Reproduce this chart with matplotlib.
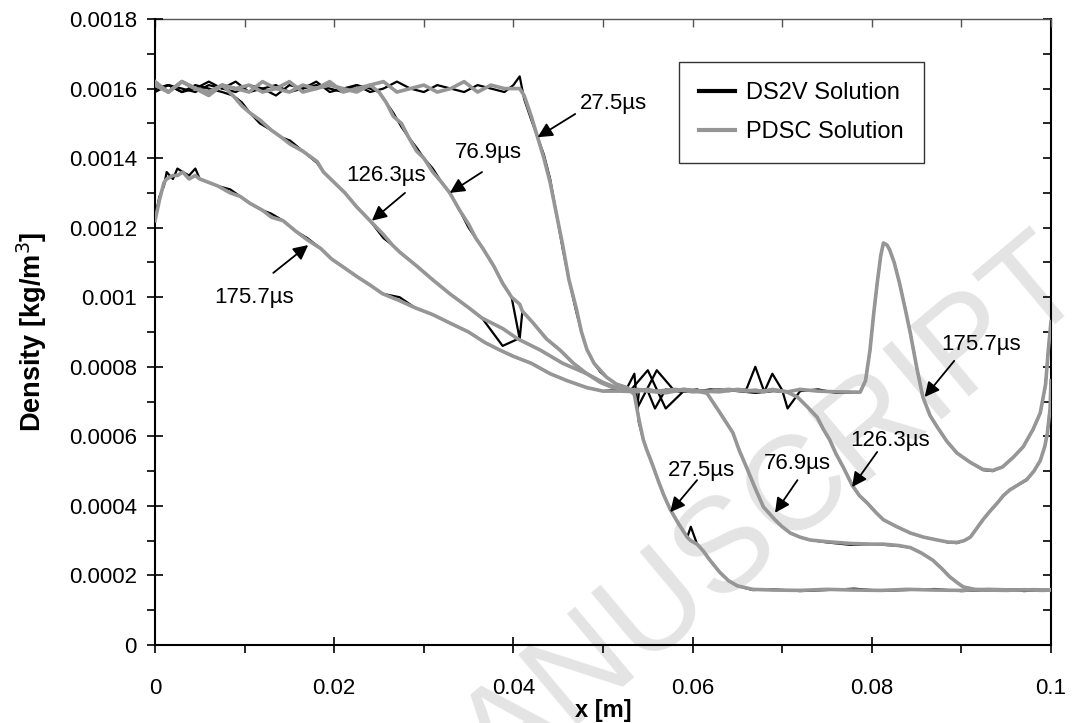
import numpy as np
import matplotlib
matplotlib.use("Agg")
import matplotlib.pyplot as plt
from matplotlib.ticker import MultipleLocator, FuncFormatter

plt.rcParams['font.family'] = ['Liberation Sans', 'DejaVu Sans']

SCALE = 1e-3  # values below in 1e-3 kg/m3

# ---- 27.5 us ----
x_275 = [0.0, .0015, .003, .0045, .006, .0075, .009, .0105, .012, .0135, .015, .0165, .018, .0195,
         .021, .0225, .024, .0255, .027, .0285, .030, .0315, .033, .0345, .036, .0375, .039, .0400,
         .0407, .0412, .0420, .0427, .0434, .0441, .0448, .0455, .0462, .0470, .0476, .0482, .0490,
         .0497, .0504, .0515, .0527, .0535, .0540, .0545, .0549, .0555, .0562, .0568, .0575, .0584,
         .0594, .0598, .0605, .0612, .0619, .0630, .0640, .0650, .0667, .069, .072, .075, .078, .081,
         .084, .087, .090, .093, .096, .098, .100]
ds_275 = [1.60, 1.61, 1.59, 1.60, 1.62, 1.60, 1.59, 1.61, 1.60, 1.58, 1.61, 1.60, 1.62, 1.59,
          1.60, 1.61, 1.59, 1.60, 1.62, 1.60, 1.59, 1.61, 1.60, 1.59, 1.61, 1.60, 1.59, 1.61,
          1.635, 1.57, 1.51, 1.46, 1.41, 1.34, 1.24, 1.14, 1.05, 0.96, 0.90, 0.85, 0.81,
          0.785, 0.77, 0.75, 0.74, 0.78, 0.64, 0.59, 0.56, 0.52, 0.47, 0.43, 0.39, 0.35,
          0.31, 0.34, 0.29, 0.27, 0.245, 0.21, 0.185, 0.17, 0.158, 0.160, 0.155, 0.158, 0.162, 0.156,
          0.158, 0.161, 0.155, 0.158, 0.160, 0.156, 0.157]
pd_275 = [1.62, 1.59, 1.62, 1.60, 1.58, 1.61, 1.60, 1.59, 1.62, 1.60, 1.59, 1.61, 1.60, 1.62,
          1.59, 1.60, 1.61, 1.62, 1.59, 1.60, 1.61, 1.59, 1.60, 1.62, 1.59, 1.61, 1.60, 1.60,
          1.60, 1.58, 1.52, 1.46, 1.40, 1.33, 1.24, 1.15, 1.05, 0.97, 0.90, 0.85, 0.81,
          0.79, 0.77, 0.75, 0.74, 0.72, 0.65, 0.59, 0.56, 0.52, 0.47, 0.43, 0.39, 0.35,
          0.31, 0.30, 0.29, 0.27, 0.245, 0.21, 0.185, 0.17, 0.160, 0.158, 0.157, 0.160, 0.158, 0.157,
          0.160, 0.158, 0.157, 0.160, 0.158, 0.159, 0.158]

# ---- 76.9 us ----
x_769 = [0.0, .0015, .003, .0045, .006, .0075, .009, .0105, .012, .0135, .015, .0165, .018, .0195,
         .021, .0225, .024, .0250, .0258, .0266, .0275, .0283, .0292, .0300, .0310, .0320, .0329,
         .0340, .0350, .0358, .0366, .0378, .0388, .0398, .0407, .0410, .0422, .0437, .0452, .0467,
         .0482, .0497, .0511, .053, .055, .057, .059, .0605, .0616, .0630, .0645, .0652, .0660,
         .0670, .0679, .0692, .0700, .0709, .0720, .0731, .0750, .0776, .0800, .0813, .0830, .0843,
         .0855, .0868, .0878, .0887, .0895, .0902, .0915, .093, .095, .097, .099, .100]
ds_769 = [1.59, 1.61, 1.60, 1.59, 1.61, 1.60, 1.62, 1.59, 1.60, 1.61, 1.59, 1.60, 1.61, 1.60,
          1.59, 1.61, 1.60, 1.59, 1.56, 1.53, 1.49, 1.46, 1.43, 1.40, 1.37, 1.33, 1.30,
          1.25, 1.20, 1.17, 1.14, 1.09, 1.04, 1.00, 0.88, 0.96, 0.926, 0.88, 0.848, 0.81,
          0.78, 0.755, 0.74, 0.73, 0.79, 0.68, 0.73, 0.735, 0.724, 0.67, 0.61, 0.56, 0.512,
          0.45, 0.397, 0.36, 0.34, 0.322, 0.31, 0.302, 0.295, 0.288, 0.290, 0.288, 0.285, 0.280,
          0.265, 0.244, 0.22, 0.196, 0.18, 0.167, 0.160, 0.157, 0.160, 0.155, 0.158, 0.157]
pd_769 = [1.61, 1.59, 1.62, 1.60, 1.59, 1.61, 1.60, 1.61, 1.59, 1.60, 1.62, 1.59, 1.60, 1.61,
          1.60, 1.59, 1.61, 1.59, 1.56, 1.52, 1.50, 1.46, 1.42, 1.40, 1.36, 1.33, 1.30,
          1.25, 1.21, 1.17, 1.14, 1.09, 1.04, 1.00, 0.98, 0.96, 0.926, 0.88, 0.848, 0.81,
          0.78, 0.755, 0.74, 0.735, 0.73, 0.725, 0.735, 0.73, 0.724, 0.67, 0.61, 0.56, 0.512,
          0.45, 0.397, 0.36, 0.34, 0.322, 0.31, 0.302, 0.297, 0.292, 0.290, 0.290, 0.286, 0.280,
          0.265, 0.244, 0.22, 0.196, 0.18, 0.167, 0.160, 0.158, 0.157, 0.159, 0.157, 0.158]

# ---- 126.3 us ----
x_1263 = [0.0, .0015, .003, .0045, .006, .0075, .0087, .0097, .0106, .0117, .0130, .0141, .0151,
          .0165, .0181, .0188, .0200, .0212, .0225, .0240, .0255, .0265, .0273, .0292, .0310, .0329,
          .0350, .0365, .0388, .0405, .0430, .0455, .0482, .0500, .0515, .053, .055, .0558, .057,
          .059, .061, .063, .065, .067, .069, .0705, .0717, .0728, .0739, .0746, .0753, .0760,
          .0768, .0778, .0786, .0795, .0805, .0813, .0828, .0843, .0858, .0873, .0885, .0895,
          .0903, .0910, .0917, .0924, .0932, .0940, .0947, .0954, .0963, .0973, .0981, .0988,
          .0993, .0996, .0999, .1000]
ds_1263 = [1.60, 1.61, 1.59, 1.61, 1.60, 1.59, 1.58, 1.56, 1.53, 1.50, 1.48, 1.46, 1.45,
           1.42, 1.386, 1.36, 1.33, 1.30, 1.26, 1.22, 1.17, 1.15, 1.13, 1.09, 1.05, 1.01,
           0.97, 0.94, 0.86, 0.88, 0.848, 0.81, 0.78, 0.755, 0.74, 0.735, 0.73, 0.68, 0.735,
           0.728, 0.73, 0.735, 0.73, 0.725, 0.73, 0.728, 0.713, 0.685, 0.655, 0.62, 0.59, 0.55,
           0.512, 0.46, 0.43, 0.408, 0.38, 0.36, 0.34, 0.322, 0.31, 0.302, 0.295, 0.293,
           0.30, 0.31, 0.335, 0.36, 0.385, 0.408, 0.43, 0.446, 0.46, 0.474, 0.50, 0.53,
           0.57, 0.61, 0.68, 0.76]
pd_1263 = [1.61, 1.59, 1.62, 1.60, 1.59, 1.61, 1.58, 1.55, 1.53, 1.51, 1.48, 1.46, 1.44,
           1.42, 1.39, 1.36, 1.33, 1.30, 1.26, 1.22, 1.18, 1.15, 1.13, 1.09, 1.05, 1.01,
           0.97, 0.94, 0.91, 0.88, 0.848, 0.81, 0.78, 0.755, 0.74, 0.73, 0.735, 0.73, 0.728,
           0.735, 0.73, 0.728, 0.735, 0.73, 0.733, 0.728, 0.713, 0.685, 0.655, 0.62, 0.59, 0.55,
           0.512, 0.46, 0.43, 0.408, 0.38, 0.36, 0.34, 0.322, 0.31, 0.302, 0.296, 0.295,
           0.30, 0.31, 0.335, 0.36, 0.385, 0.408, 0.43, 0.446, 0.46, 0.476, 0.50, 0.53,
           0.57, 0.61, 0.68, 0.76]

# ---- 175.7 us ----
x_1757 = [0.0, .0005, .0010, .0013, .0020, .0025, .0031, .0038, .0045, .0050, .0060, .0070, .0084,
          .0095, .0106, .0120, .0130, .0143, .0157, .0170, .0185, .0197, .0210, .0225, .0240, .0254,
          .0273, .0290, .0310, .0329, .0350, .0368, .0385, .0400, .0420, .0441, .0460, .0482, .050,
          .052, .054, .0538, .056, .058, .060, .062, .064, .066, .067, .068, .0689, .070, .0706, .072,
          .074, .076, .0787, .0793, .0798, .0802, .0806, .0810, .0813, .0817, .0820, .0825, .0831,
          .0837, .0843, .0850, .0857, .0865, .0873, .0884, .0895, .0910, .0924, .0935, .0946, .0958,
          .0969, .0980, .0988, .0994, .0997, .1000]
ds_1757 = [1.23, 1.29, 1.32, 1.36, 1.34, 1.37, 1.36, 1.35, 1.37, 1.34, 1.33, 1.32, 1.31,
           1.29, 1.27, 1.25, 1.24, 1.22, 1.19, 1.17, 1.14, 1.11, 1.087, 1.06, 1.035, 1.01,
           1.00, 0.97, 0.95, 0.926, 0.90, 0.87, 0.848, 0.83, 0.81, 0.78, 0.76, 0.74, 0.73,
           0.735, 0.725, 0.68, 0.79, 0.73, 0.728, 0.735, 0.73, 0.735, 0.80, 0.728, 0.78, 0.733, 0.68,
           0.73, 0.735, 0.725, 0.727, 0.76, 0.848, 0.95, 1.04, 1.12, 1.156, 1.15, 1.136, 1.10, 1.04,
           0.97, 0.897, 0.80, 0.713, 0.66, 0.627, 0.585, 0.552, 0.525, 0.503, 0.50, 0.512, 0.54,
           0.57, 0.62, 0.667, 0.75, 0.848, 0.93]
pd_1757 = [1.22, 1.28, 1.33, 1.34, 1.35, 1.35, 1.36, 1.34, 1.35, 1.34, 1.33, 1.32, 1.30,
           1.29, 1.27, 1.25, 1.23, 1.22, 1.19, 1.165, 1.14, 1.11, 1.087, 1.06, 1.035, 1.01,
           0.99, 0.97, 0.95, 0.926, 0.90, 0.87, 0.848, 0.83, 0.81, 0.78, 0.76, 0.74, 0.73,
           0.73, 0.728, 0.735, 0.73, 0.735, 0.728, 0.73, 0.735, 0.73, 0.733, 0.728, 0.735, 0.73, 0.728,
           0.735, 0.73, 0.728, 0.727, 0.76, 0.848, 0.95, 1.04, 1.12, 1.156, 1.15, 1.136, 1.10, 1.04,
           0.97, 0.897, 0.80, 0.713, 0.66, 0.627, 0.585, 0.552, 0.525, 0.505, 0.502, 0.512, 0.54,
           0.57, 0.62, 0.667, 0.75, 0.848, 0.93]

curves = [(x_275, ds_275, pd_275), (x_769, ds_769, pd_769),
          (x_1263, ds_1263, pd_1263), (x_1757, ds_1757, pd_1757)]

# annotation labels: (text, text pos, arrow tail, arrow tip)
labels = [
    ("27.5\u00b5s", (0.0512, 0.001558), (0.0469, 0.001527), (0.0427, 0.00146)),
    ("76.9\u00b5s", (0.0372, 0.001417), (0.0365, 0.00136), (0.0329, 0.00130)),
    ("126.3\u00b5s", (0.0258, 0.00135), (0.0279, 0.00130), (0.0242, 0.00122)),
    ("175.7\u00b5s", (0.0110, 0.00100), (0.0132, 0.00107), (0.0171, 0.00115)),
    ("27.5\u00b5s", (0.0610, 0.000503), (0.0605, 0.000474), (0.0575, 0.000382)),
    ("76.9\u00b5s", (0.0717, 0.000523), (0.0717, 0.000474), (0.0692, 0.00038)),
    ("126.3\u00b5s", (0.0820, 0.000587), (0.0806, 0.000555), (0.0778, 0.000454)),
    ("175.7\u00b5s", (0.0922, 0.000865), (0.0892, 0.000817), (0.0859, 0.000713)),
]

fig = plt.figure(figsize=(10.72, 7.23), dpi=100)
ax = fig.add_axes([0.1446, 0.1079, 0.8358, 0.8658])
ax.patch.set_alpha(0)

# watermark
fig.text(0.998, 0.63, "ACCEPTED MANUSCRIPT", rotation=40, rotation_mode='anchor',
         ha='right', va='center', fontsize=96, color='#e4e4e4', zorder=-5)

for i, (xs, yd, yp) in enumerate(curves):
    ax.plot(xs, np.array(yd) * SCALE, color='black', lw=1.6,
            label='DS2V Solution' if i == 0 else None, zorder=3)
for i, (xs, yd, yp) in enumerate(curves):
    ax.plot(xs, np.array(yp) * SCALE, color='#969696', lw=2.6,
            label='PDSC Solution' if i == 0 else None, zorder=4)

for txt, tpos, tail, tip in labels:
    ax.text(tpos[0], tpos[1], txt, fontsize=16, ha='center', va='center', zorder=6)
    ax.annotate('', xy=tip, xytext=tail,
                arrowprops=dict(arrowstyle='-|>', color='black', lw=1.3,
                                mutation_scale=22, shrinkA=0, shrinkB=0), zorder=6)

ax.set_xlim(0, 0.1)
ax.set_ylim(0, 0.0018)
ax.xaxis.set_major_locator(MultipleLocator(0.02))
ax.xaxis.set_minor_locator(MultipleLocator(0.01))
ax.yaxis.set_major_locator(MultipleLocator(0.0002))
ax.yaxis.set_minor_locator(MultipleLocator(0.0001))
fmt = FuncFormatter(lambda v, pos: '%g' % round(v, 6))
ax.xaxis.set_major_formatter(fmt)
ax.yaxis.set_major_formatter(fmt)
ax.tick_params(which='major', direction='inout', length=12, width=1.2, labelsize=16,
               top=False, right=False, pad=7)
ax.tick_params(which='minor', direction='out', length=6, width=1.2, top=False, right=False)
ax.tick_params(axis='x', which='major', pad=18)

sec_y = ax.secondary_yaxis('right')
sec_y.yaxis.set_major_locator(MultipleLocator(0.0001))
sec_y.tick_params(direction='in', length=6, width=1.2, labelright=False)
sec_y.spines['right'].set_linewidth(1.5)
sec_x = ax.secondary_xaxis('top')
sec_x.xaxis.set_major_locator(MultipleLocator(0.01))
sec_x.tick_params(direction='in', length=6, width=1.0, labeltop=False, color='#555555')
sec_x.spines['top'].set_linewidth(1.0)
sec_x.spines['top'].set_color('#555555')
ax.spines['top'].set_visible(False)
ax.spines['right'].set_visible(False)
ax.spines['left'].set_linewidth(1.5)
ax.spines['bottom'].set_linewidth(1.5)

ax.set_xlabel('x [m]', fontsize=17, fontweight='bold',
              family=['Liberation Sans Narrow', 'Liberation Sans'], labelpad=0)
ax.set_ylabel('Density [kg/m$^3$]', fontsize=19.5, fontweight='bold',
              family=['Liberation Sans Narrow', 'Liberation Sans'], labelpad=14)

leg = ax.legend(loc='upper left', bbox_to_anchor=(0.585, 0.931), fontsize=17,
                frameon=True, fancybox=False, edgecolor='black', handlelength=1.5,
                borderpad=0.85, labelspacing=0.72, handletextpad=0.5, borderaxespad=0)
leg.get_frame().set_linewidth(1.0)
for h in leg.legend_handles:
    h.set_linewidth(3)

fig.savefig('out.png', dpi=100)
